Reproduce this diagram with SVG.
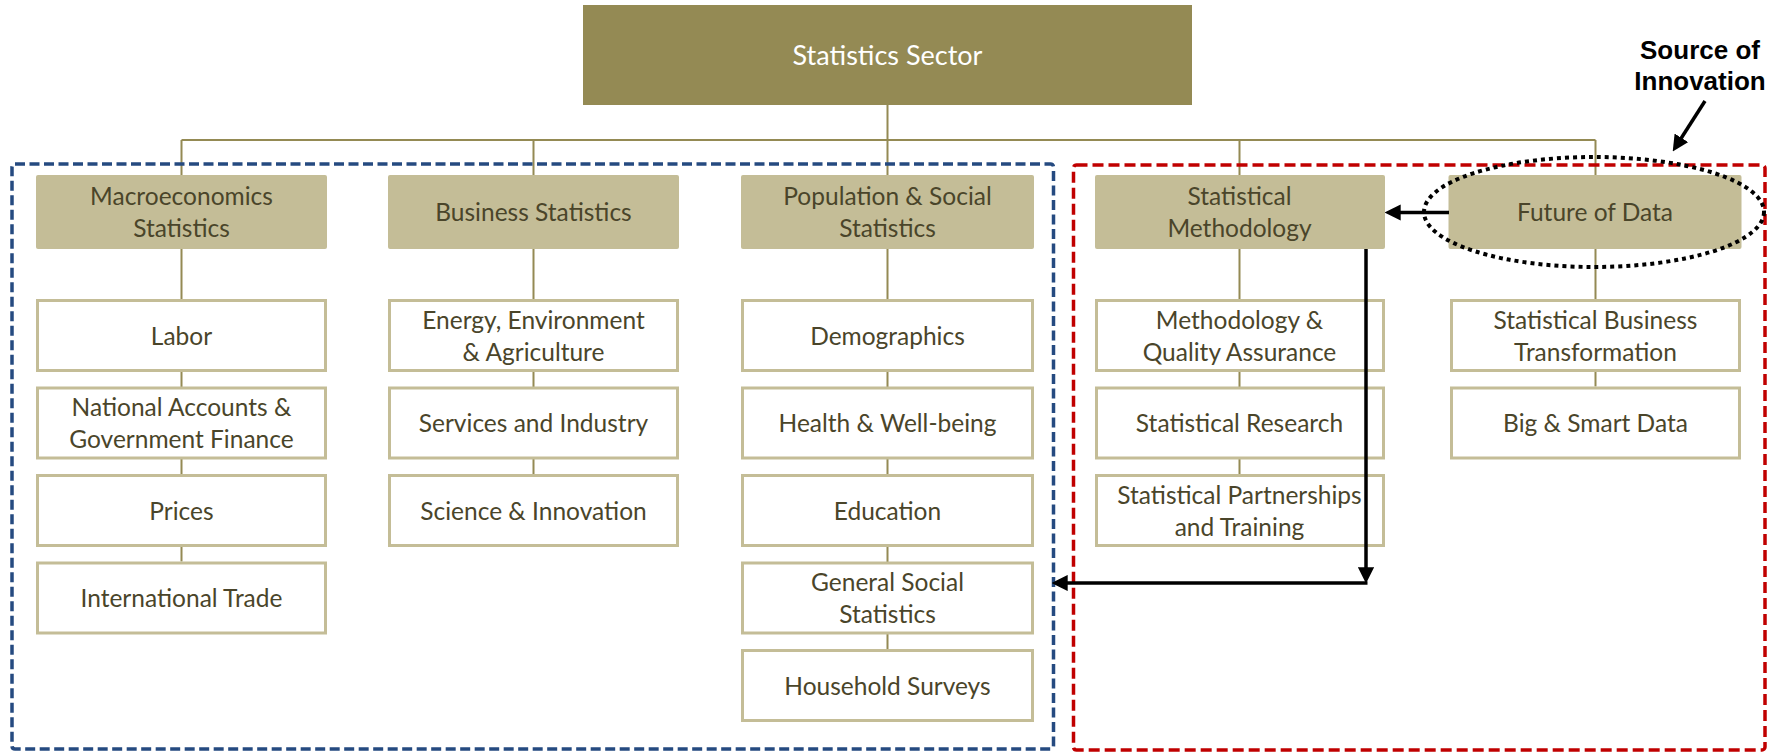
<svg xmlns="http://www.w3.org/2000/svg" width="1779" height="753" viewBox="0 0 1779 753">
<style>
.top{fill:#948A54}
.hdr{fill:#C4BD97}
.sub{fill:#FFFFFF;stroke:#C4BD97;stroke-width:3}
.t{font-family:Lato,"Open Sans",sans-serif;font-size:24.5px;fill:#4A452A;text-anchor:middle}
.tt{font-family:Lato,"Open Sans",sans-serif;font-size:27px;fill:#FFFFFF;text-anchor:middle}
.src{font-family:"Liberation Sans",Arial,sans-serif;font-weight:bold;font-size:26px;fill:#000000;text-anchor:middle}
.tree{fill:none;stroke:#948A54;stroke-width:2}
.arr{fill:none;stroke:#000000;stroke-width:3.5;marker-end:url(#ah)}
</style>
<defs>
<marker id="ah" viewBox="0 0 10 10" refX="6" refY="5" markerWidth="4.6" markerHeight="4.6" orient="auto" markerUnits="strokeWidth">
<path d="M0,0 L10,5 L0,10 z" fill="#000000"/>
</marker>
</defs>
<rect width="1779" height="753" fill="#FFFFFF"/>

<g id="connectors">
<path class="tree" d="M887.5,105 V140 M181.5,140 H1595.5 M181.5,140 V175 M533.5,140 V175 M887.5,140 V175 M1239.5,140 V175 M1595.5,140 V175"/>
<path class="tree" d="M181.5,249 V561.5 M533.5,249 V474 M887.5,249 V649 M1239.5,249 V474 M1595.5,249 V386.5"/>
</g>

<g id="groups">
<rect x="12" y="164" width="1041.5" height="585" rx="3" fill="none" stroke="#254A80" stroke-width="3.5" stroke-dasharray="10 4.5"/>
<rect x="1073.5" y="165" width="691.5" height="585" rx="3" fill="none" stroke="#C00000" stroke-width="3.5" stroke-dasharray="11 5"/>
</g>

<g id="n-top">
<rect class="top" x="583" y="5" width="609" height="100"/>
<text class="tt" x="887.5" y="65">Statistics Sector</text>
</g>

<g id="n-macro">
<rect class="hdr" x="36" y="175" width="291" height="74" rx="2"/>
<text class="t" x="181.5" y="205">Macroeconomics</text>
<text class="t" x="181.5" y="237">Statistics</text>
</g>
<g id="n-business">
<rect class="hdr" x="388" y="175" width="291" height="74" rx="2"/>
<text class="t" x="533.5" y="221">Business Statistics</text>
</g>
<g id="n-population">
<rect class="hdr" x="741" y="175" width="293" height="74" rx="2"/>
<text class="t" x="887.5" y="205">Population &amp; Social</text>
<text class="t" x="887.5" y="237">Statistics</text>
</g>
<g id="n-methodology">
<rect class="hdr" x="1095" y="175" width="290" height="74" rx="2"/>
<text class="t" x="1239.5" y="205">Statistical</text>
<text class="t" x="1239.5" y="237">Methodology</text>
</g>
<g id="n-future">
<rect class="hdr" x="1448.5" y="175" width="293" height="74" rx="2"/>
<text class="t" x="1595" y="221">Future of Data</text>
</g>

<g id="n-labor">
<rect class="sub" x="37.5" y="300.5" width="288" height="70"/>
<text class="t" x="181.5" y="344.5">Labor</text>
</g>
<g id="n-national">
<rect class="sub" x="37.5" y="388" width="288" height="70"/>
<text class="t" x="181.5" y="416">National Accounts &amp;</text>
<text class="t" x="181.5" y="448">Government Finance</text>
</g>
<g id="n-prices">
<rect class="sub" x="37.5" y="475.5" width="288" height="70"/>
<text class="t" x="181.5" y="519.5">Prices</text>
</g>
<g id="n-trade">
<rect class="sub" x="37.5" y="563" width="288" height="70"/>
<text class="t" x="181.5" y="607">International Trade</text>
</g>

<g id="n-energy">
<rect class="sub" x="389.5" y="300.5" width="288" height="70"/>
<text class="t" x="533.5" y="329">Energy, Environment</text>
<text class="t" x="533.5" y="361">&amp; Agriculture</text>
</g>
<g id="n-services">
<rect class="sub" x="389.5" y="388" width="288" height="70"/>
<text class="t" x="533.5" y="432">Services and Industry</text>
</g>
<g id="n-science">
<rect class="sub" x="389.5" y="475.5" width="288" height="70"/>
<text class="t" x="533.5" y="519.5">Science &amp; Innovation</text>
</g>

<g id="n-demographics">
<rect class="sub" x="742.5" y="300.5" width="290" height="70"/>
<text class="t" x="887.5" y="344.5">Demographics</text>
</g>
<g id="n-health">
<rect class="sub" x="742.5" y="388" width="290" height="70"/>
<text class="t" x="887.5" y="432">Health &amp; Well-being</text>
</g>
<g id="n-education">
<rect class="sub" x="742.5" y="475.5" width="290" height="70"/>
<text class="t" x="887.5" y="519.5">Education</text>
</g>
<g id="n-general">
<rect class="sub" x="742.5" y="563" width="290" height="70"/>
<text class="t" x="887.5" y="591">General Social</text>
<text class="t" x="887.5" y="623">Statistics</text>
</g>
<g id="n-household">
<rect class="sub" x="742.5" y="650.5" width="290" height="70"/>
<text class="t" x="887.5" y="694.5">Household Surveys</text>
</g>

<g id="n-mqa">
<rect class="sub" x="1096.5" y="300.5" width="287" height="70"/>
<text class="t" x="1239.5" y="329">Methodology &amp;</text>
<text class="t" x="1239.5" y="361">Quality Assurance</text>
</g>
<g id="n-research">
<rect class="sub" x="1096.5" y="388" width="287" height="70"/>
<text class="t" x="1239.5" y="432">Statistical Research</text>
</g>
<g id="n-partnerships">
<rect class="sub" x="1096.5" y="475.5" width="287" height="70"/>
<text class="t" x="1239.5" y="504">Statistical Partnerships</text>
<text class="t" x="1239.5" y="536">and Training</text>
</g>

<g id="n-sbt">
<rect class="sub" x="1451.5" y="300.5" width="288" height="70"/>
<text class="t" x="1595.5" y="329">Statistical Business</text>
<text class="t" x="1595.5" y="361">Transformation</text>
</g>
<g id="n-bigdata">
<rect class="sub" x="1451.5" y="388" width="288" height="70"/>
<text class="t" x="1595.5" y="432">Big &amp; Smart Data</text>
</g>

<g id="n-source">
<text class="src" x="1700" y="59">Source of</text>
<text class="src" x="1700" y="90">Innovation</text>
</g>

<g id="highlight">
<ellipse cx="1594" cy="212" rx="170" ry="55" fill="none" stroke="#000000" stroke-width="4" stroke-dasharray="4 4"/>
</g>

<g id="arrows">
<path class="arr" d="M1449,212.5 H1391"/>
<path class="arr" d="M1366,249 V577"/>
<path class="arr" d="M1367.5,583 H1058"/>
<path class="arr" d="M1705,101 L1676.2,146"/>
</g>
</svg>
